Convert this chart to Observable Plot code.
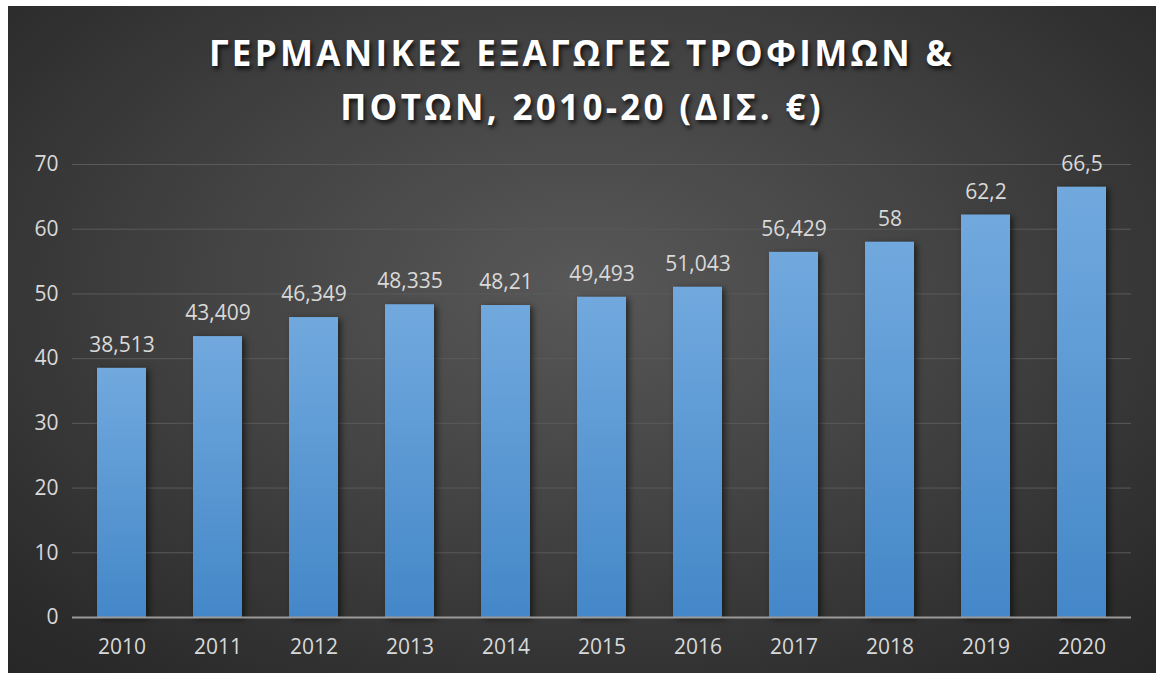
<!DOCTYPE html>
<html>
<head>
<meta charset="utf-8">
<script src="https://cdn.jsdelivr.net/npm/d3@7"></script>
<script src="https://cdn.jsdelivr.net/npm/@observablehq/plot@0.6"></script>
<style>
  html, body { margin: 0; padding: 0; background: #ffffff; }
  #wrap {
    position: absolute; left: 8px; top: 6px; width: 1148px; height: 667px;
    background: radial-gradient(ellipse 75% 80% at 50% 42%, #585858 0%, #424242 45%, #2c2c2c 85%, #262626 100%);
    overflow: hidden;
  }
  #title {
    position: absolute; left: 0; top: 20px; width: 1148px; text-align: center;
    font-family: "Open Sans", sans-serif; font-weight: 700; font-size: 35px;
    line-height: 54px; letter-spacing: 3.3px; color: #ffffff;
    text-shadow: 2px 3px 4px rgba(0,0,0,0.75);
  }
  #chart { position: absolute; left: 0; top: 134px; }
  #chart svg g[aria-label="bar"] rect { filter: drop-shadow(3px 2px 3px rgba(0,0,0,0.55)); }
</style>
</head>
<body>
<svg width="0" height="0" style="position:absolute">
  <defs>
    <linearGradient id="barGrad" x1="0" y1="0" x2="0" y2="1">
      <stop offset="0%" stop-color="#71a9de"/>
      <stop offset="100%" stop-color="#4487c8"/>
    </linearGradient>
  </defs>
</svg>
<div id="wrap">
  <div id="title">ΓΕΡΜΑΝΙΚΕΣ ΕΞΑΓΩΓΕΣ ΤΡΟΦΙΜΩΝ &amp;<br>ΠΟΤΩΝ, 2010-20 (ΔΙΣ. €)</div>
  <div id="chart"></div>
</div>
<script>
const years = ["2010","2011","2012","2013","2014","2015","2016","2017","2018","2019","2020"];
const values = [38.513, 43.409, 46.349, 48.335, 48.21, 49.493, 51.043, 56.429, 58, 62.2, 66.5];
const yTicks = [0, 10, 20, 30, 40, 50, 60, 70];

const data = years.map((y, i) => ({year: y, value: values[i]}));
const fmt = v => String(v).replace(".", ",");

const chart = Plot.plot({
  width: 1148,
  height: 533,
  marginTop: 24,
  marginBottom: 56,
  marginLeft: 64,
  marginRight: 25,
  style: {background: "transparent", fontFamily: "'Open Sans', sans-serif", color: "#d9d9d9"},
  x: {domain: years, paddingInner: 0.49, paddingOuter: 0.245},
  y: {domain: [0, 70]},
  marks: [
    Plot.ruleY(yTicks.filter(d => d > 0), {stroke: "#5a5a5a", strokeWidth: 1}),
    Plot.barY(data, {x: "year", y: "value", fill: "url(#barGrad)"}),
    Plot.ruleY([0], {stroke: "#9a9a9a", strokeWidth: 2}),
    Plot.axisY({ticks: yTicks, tickSize: 0, tickPadding: 14, fontSize: 21, fill: "#d9d9d9", label: null}),
    Plot.axisX({tickSize: 0, tickPadding: 22, fontSize: 21, fill: "#d9d9d9", label: null}),
    Plot.text(data, {x: "year", y: "value", text: d => fmt(d.value), dy: -23, fill: "#d9d9d9", fontSize: 21})
  ]
});
document.getElementById("chart").appendChild(chart);
</script>
</body>
</html>
